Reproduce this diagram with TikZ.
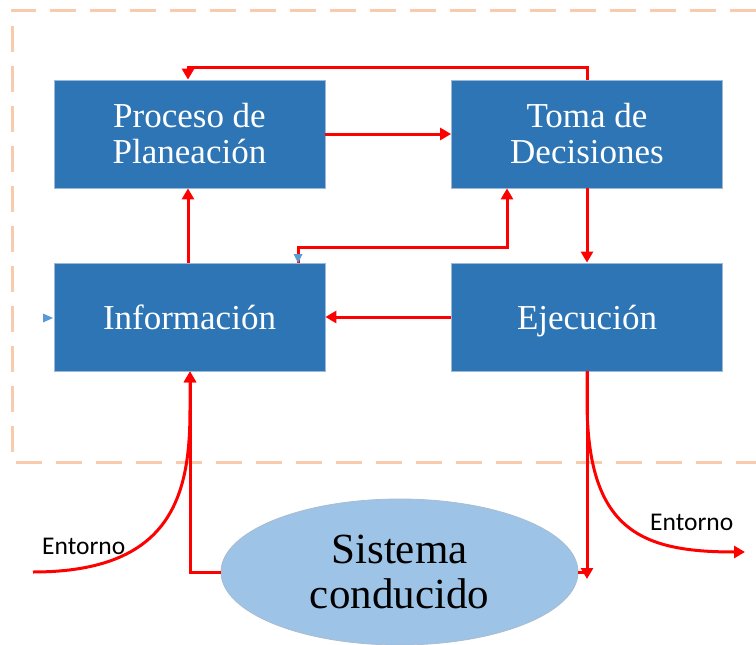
\documentclass[tikz,border=0pt]{standalone}
\usepackage{fontspec}
\setmainfont{Liberation Serif}
\newfontfamily\carlito{Carlito}
\usetikzlibrary{shapes.geometric,arrows.meta}
\definecolor{boxblue}{HTML}{2E75B6}
\definecolor{boxedge}{HTML}{9DB9D8}
\definecolor{ellblue}{HTML}{9DC3E6}
\definecolor{elledge}{HTML}{A9BCD0}
\definecolor{borderorange}{HTML}{F8CBAD}
\definecolor{tipblue}{HTML}{5B9BD5}
\definecolor{arrred}{HTML}{FF0000}
\tikzset{
  blockbox/.style={draw=boxedge, line width=0.8pt, fill=boxblue, minimum width=271pt, minimum height=108pt,
    inner sep=0pt, align=center, text=white, font=\fontsize{35}{36}\selectfont},
  sysell/.style={ellipse, draw=elledge, line width=0.8pt, fill=ellblue, minimum width=357pt, minimum height=146pt,
    inner sep=0pt, align=center, text=black, font=\fontsize{43}{45}\selectfont},
  redline/.style={draw=arrred, line width=3pt},
  arr/.style={redline, -{Triangle[length=11pt,width=12pt]}},
  lbl/.style={font=\carlito\fontsize{25.5}{28}\selectfont, text=black, inner sep=0pt},
  framedash/.style={draw=borderorange, line width=3pt, dash pattern=on 26pt off 14pt},
}
\begin{document}
\begin{tikzpicture}[x=1pt,y=-1pt]
\useasboundingbox (0,0) rectangle (756,645);
% frame
\draw[framedash] (756,10) -- (12,10) -- (12,462) -- (756,462);
% blocks
\node[blockbox] (proc) at (189.5,134) {Proceso de\\Planeación};
\node[blockbox] (toma) at (587,134) {Toma de\\Decisiones};
\node[blockbox] (info) at (189.5,317) {Información};
\node[blockbox, text depth=0pt] (ejec) at (587,317) {Ejecución};
\node[sysell] (sis) at (399.5,572) {Sistema\\conducido};
% helper coordinates
\coordinate (topx) at (188,67);
\coordinate (midl) at (298,247);
\coordinate (midr) at (507,247);
\coordinate (inx) at (190,0);
\coordinate (knee) at (587,572);
\coordinate (envin) at (33,572);
\coordinate (envout) at (745,552);
\coordinate (ejdn) at (587,579);
% connectors
\draw[arr] (proc.east) -- (toma.west);
\draw[arr] (toma.north) |- (topx) -- (topx |- proc.north);
\draw[arr] (toma.south) -- (ejec.north);
\draw[arr] (ejec.west) -- (info.east);
\draw[arr] (proc.south -| topx) ++(0,75) -- (proc.south -| topx);
\draw[arr] (midl |- info.north) -- (midl) -- (midr) -- (midr |- toma.south);
\draw[arr] (sis.west) -| (inx |- info.south);
\draw[arr] (envin) .. controls (172,572) and (190,495) .. (190,410) -- (inx |- info.south);
\draw[arr] (ejec.south) -- (ejdn);
\draw[redline] (sis.east) -- (knee);
\draw[arr] (ejec.south) -- (587,400) .. controls (587,530) and (640,552) .. (envout);
% stray blue tips
\fill[tipblue] (43,313.5) -- (53,318) -- (43,322.5) -- cycle;
\fill[tipblue] (293.5,254) -- (302.5,254) -- (298,263) -- cycle;
% labels
\node[lbl, anchor=west] (envl) at (42,546) {Entorno};
\node[lbl, anchor=west] (envr) at (650,522) {Entorno};
\end{tikzpicture}
\end{document}
